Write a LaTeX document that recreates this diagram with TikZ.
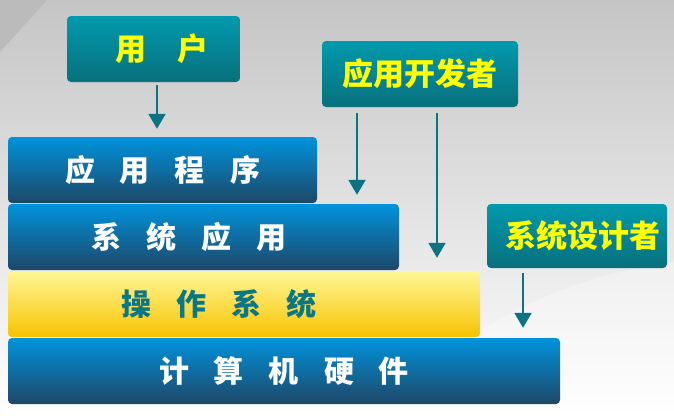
\documentclass[tikz,border=0pt]{standalone}
\usepackage{fontspec}
\newfontfamily\cjk{Noto Sans CJK SC}
\usepackage{xcolor}
\usepackage{tikz}
\usetikzlibrary{arrows.meta, positioning, calc}

\definecolor{bgtop}{HTML}{C5C5C5}
\definecolor{bgcorner}{HTML}{BBBBBB}
\definecolor{tealtop}{HTML}{019AAE}
\definecolor{tealbot}{HTML}{08707C}
\definecolor{bluetop}{HTML}{0093DC}
\definecolor{bluebot}{HTML}{1E4767}
\definecolor{yeltop}{HTML}{FFF797}
\definecolor{yelbot}{HTML}{F7C300}
\definecolor{arrowteal}{HTML}{0B7383}
\definecolor{ostext}{HTML}{0A7686}
\definecolor{roletext}{HTML}{FFFF00}
\newcommand{\lgap}{\hspace{25pt}}

\begin{document}
\begin{tikzpicture}[x=1pt, y=-1pt,
    role/.style={rounded corners=4pt, inner sep=0pt, top color=tealtop, middle color=tealbot, bottom color=tealbot,
      text=roletext, font=\cjk\bfseries\fontsize{31}{33}\selectfont},
    layer/.style={rounded corners=4pt, inner sep=0pt, minimum height=66pt, text=white,
      font=\cjk\bfseries\fontsize{30}{32}\selectfont},
    bluelayer/.style={layer, top color=bluetop, middle color=bluebot, bottom color=bluebot},
    yellowlayer/.style={layer, top color=yeltop, middle color=yelbot, bottom color=yelbot, text=ostext},
    down/.style={draw=arrowteal, line width=2pt, -{Triangle[width=17pt,length=15pt]}}]
    \useasboundingbox (0,0) rectangle (674,415);
    % slide background
    \fill[top color=bgtop, bottom color=white] (0,0) rectangle (674,415);
    \fill[bgcorner] (0,0) -- (47,0) -- (0,52) -- cycle;
    \fill[white, opacity=0.3] (380,415) .. controls (480,310) and (580,275) .. (674,262) -- (674,415) -- cycle;
    % layers
    \node[bluelayer, minimum width=309pt] (app) at (162.5,170) {应\lgap 用\lgap 程\lgap 序};
    \node[bluelayer, minimum width=391pt] (sysapp) at (203.5,237) {系\lgap 统\lgap 应\lgap 用\hspace*{29pt}};
    \node[yellowlayer, minimum width=472pt] (os) at (244,304) {操\lgap 作\lgap 系\lgap 统\hspace*{50pt}};
    \node[bluelayer, minimum width=552pt] (hw) at (284,371) {计\lgap 算\lgap 机\lgap 硬\lgap 件};
    % roles
    \node[role, minimum width=173pt, minimum height=66pt] (user) at (153.5,49) {\hspace*{17pt}用\hspace{32pt}户};
    \node[role, minimum width=196pt, minimum height=66pt] (dev) at (420,74) {应用开发者};
    \node[role, minimum width=180pt, minimum height=64pt] (design) at (577,236) {\hspace*{12pt}系统设计者};
    % who works on which layer
    \draw[down, shorten <=3pt, shorten >=8pt] ([xshift=3.5pt]user.south) -- ([xshift=3.5pt]user.south |- app.north);
    \draw[down, shorten <=6pt, shorten >=9pt] ([xshift=-63pt]dev.south) -- ([xshift=-63pt]dev.south |- sysapp.north);
    \draw[down, shorten <=6pt, shorten >=13pt] ([xshift=17pt]dev.south) -- ([xshift=17pt]dev.south |- os.north);
    \draw[down, shorten <=5pt, shorten >=10pt] ([xshift=-54pt]design.south) -- ([xshift=-54pt]design.south |- hw.north);
\end{tikzpicture}
\end{document}
